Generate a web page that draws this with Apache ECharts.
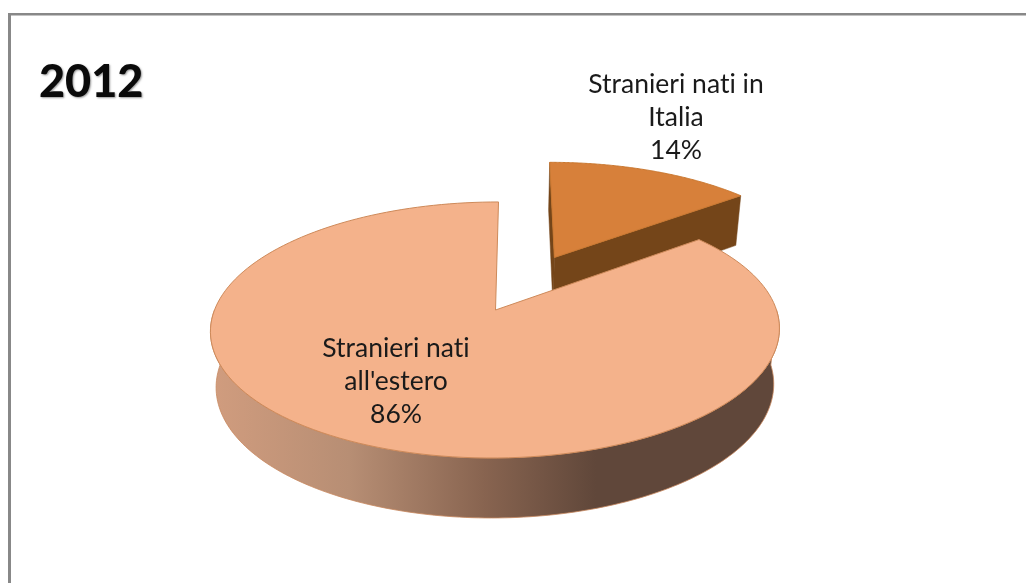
<!DOCTYPE html>
<html><head><meta charset="utf-8">
<style>html,body{margin:0;padding:0;background:#fff}#c{width:1026px;height:583px}</style>
<script src="https://cdn.jsdelivr.net/npm/echarts@6/dist/echarts.min.js"></script>
</head><body><div id="c"></div>
<script>
// Plain glyphs, no ti/fi ligatures (the reference's font has none)
const nativeGetContext = HTMLCanvasElement.prototype.getContext;
HTMLCanvasElement.prototype.getContext = function () {
  const ctx = nativeGetContext.apply(this, arguments);
  if (ctx && 'textRendering' in ctx) ctx.textRendering = 'optimizeSpeed';
  return ctx;
};

const chartTitle = '2012';
const categories = ['Stranieri nati in\nItalia', "Stranieri nati\nall'estero"];
const values = [14.4, 85.6];
const percentLabels = ['14%', '86%'];
const exploded = [0.5, 0];
const topColors = ['#D7803A', '#F4B28B'];
const edgeColors = ['#C9772F', '#CE8A5A'];
const wallColors = ['#744519', null];
const labelAnchors = [[676, 117], [396, 381]];

// projection of the pie's plane (perspective view of a circle)
const pieView = {x0: 495.5, y0: 310, ax: 281, ay: 124.9, skew: 3.5, k: 0.156,
  wallCx: 494, wallScale: 0.98, wallBase: 55, wallTilt: 5};
function modelPt(th, r, e, mid) {
  return [r * Math.sin(th) + e * Math.sin(mid), r * Math.cos(th) + e * Math.cos(mid)];
}
function topPt(m) {
  const w = 1 + pieView.k * m[1];
  return [pieView.x0 + (pieView.ax * m[0] + pieView.skew * m[1]) / w, pieView.y0 - pieView.ay * m[1] / w];
}
function bottomPt(m) {
  const p = topPt(m);
  return [pieView.wallCx + (p[0] - pieView.wallCx) * pieView.wallScale, p[1] + pieView.wallBase - pieView.wallTilt * m[1]];
}
const total = values.reduce((a, b) => a + b, 0);

function renderItem(params, api) {
  const i = params.dataIndex;
  let before = 0;
  for (let j = 0; j < i; j++) before += values[j];
  const a0 = before / total * 2 * Math.PI;
  const a1 = (before + api.value(0)) / total * 2 * Math.PI;
  const mid = (a0 + a1) / 2, e = exploded[i];
  const arc = (f, from, to) => {
    const pts = [], n = 160;
    for (let s = 0; s <= n; s++) pts.push(f(modelPt(from + (to - from) * s / n, 1, e, mid)));
    return pts;
  };
  const apex = modelPt(0, 0, e, mid);
  const children = [];
  if (wallColors[i]) {
    [a0, a1].forEach(a => {
      const m = modelPt(a, 1, e, mid);
      children.push({type: 'polygon', shape: {points: [topPt(apex), topPt(m), bottomPt(m), bottomPt(apex)]},
        style: {fill: wallColors[i], stroke: wallColors[i], lineWidth: 0.5}});
    });
  } else {
    const from = Math.max(a0, Math.PI * 0.5), to = Math.min(a1, Math.PI * 1.5);
    const pts = arc(topPt, from, to).concat(arc(bottomPt, from, to).reverse());
    children.push({type: 'polygon', shape: {points: pts}, style: {
      stroke: '#C8885E', lineWidth: 0.8,
      fill: new echarts.graphic.LinearGradient(215, 0, 775, 0, [
        {offset: 0, color: '#D09C7E'}, {offset: 0.24, color: '#B78E74'},
        {offset: 0.48, color: '#886450'}, {offset: 0.68, color: '#60473A'},
        {offset: 1, color: '#60473A'}], true)}});
  }
  children.push({type: 'polygon',
    shape: {points: [topPt(apex)].concat(arc(topPt, a0, a1))},
    style: {fill: topColors[i], stroke: edgeColors[i], lineWidth: 1}});
  children.push({type: 'text', z2: 10, style: {
    text: categories[i] + '\n' + percentLabels[i],
    x: labelAnchors[i][0], y: labelAnchors[i][1],
    align: 'center', verticalAlign: 'middle',
    font: '26.5px Lato', lineHeight: 33, fill: '#1A1A1A'}});
  return {type: 'group', children};
}

const chart = echarts.init(document.getElementById('c'), null, {renderer: 'canvas'});
chart.setOption({
  animation: false,
  backgroundColor: '#ffffff',
  title: {text: chartTitle, left: 34, top: 52,
    textStyle: {fontFamily: 'Lato', fontWeight: 900, fontSize: 45, lineHeight: 50, color: '#0A0A0A',
      textShadowColor: 'rgba(0,0,0,0.4)', textShadowBlur: 2, textShadowOffsetX: 1, textShadowOffsetY: 1}},
  graphic: [
    {type: 'rect', shape: {x: 8, y: 13, width: 1018, height: 2.5}, style: {fill: '#888888'}, silent: true},
    {type: 'rect', shape: {x: 8, y: 13, width: 3, height: 570}, style: {fill: '#888888'}, silent: true}
  ],
  series: [{
    type: 'custom', coordinateSystem: 'none', renderItem, silent: true,
    data: values.map((v, i) => ({name: categories[i], value: [v]}))
  }]
});
</script></body></html>
